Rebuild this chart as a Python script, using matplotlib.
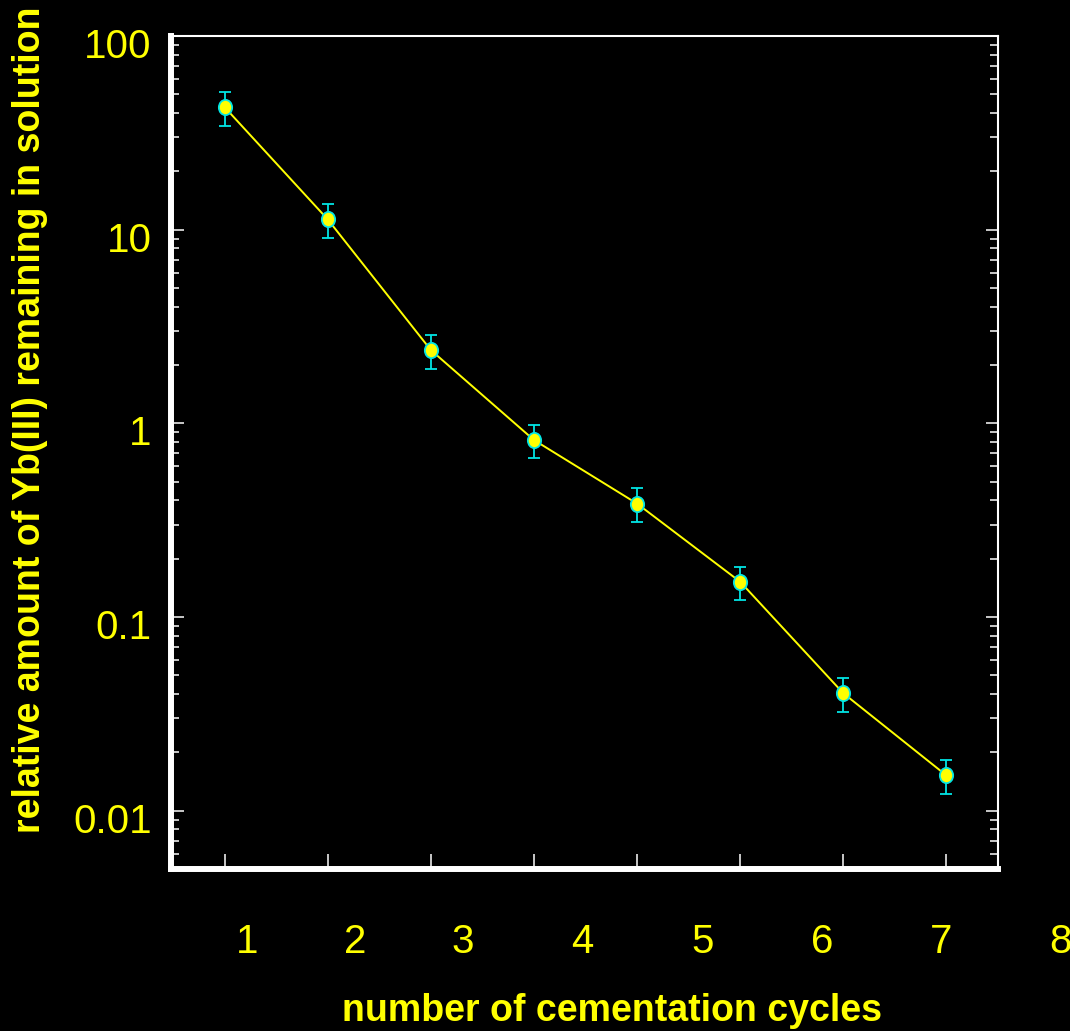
import numpy as np
import matplotlib
matplotlib.use("Agg")
import matplotlib.pyplot as plt
from matplotlib import ticker, transforms
from matplotlib.path import Path

# data
cycles = [1, 2, 3, 4, 5, 6, 7, 8]
remaining = [42.9, 11.3, 2.39, 0.82, 0.385, 0.152, 0.0404, 0.0152]
err = [8.5, 2.2, 0.48, 0.16, 0.077, 0.030, 0.008, 0.003]

ytick_vals = [0.01, 0.1, 1, 10, 100]
ytick_text = ["0.01", "0.1", "1", "10", "100"]
xlabel_text = ["1", "2", "3", "4", "5", "6", "7", "8"]

W, H = 1070, 1031
YEL = "#ffff00"
CYAN = "#00e5e5"
TICK = "#d8d8d8"

plt.rcParams['font.family'] = ['Liberation Sans', 'DejaVu Sans']

# the dots in the original are a bit taller than wide
circ = Path.unit_circle()
oval = Path(circ.vertices * np.array([0.87, 1.0]), circ.codes)

fig = plt.figure(figsize=(W / 100, H / 100), dpi=100, facecolor="black")
ax = fig.add_axes([171 / W, 1 - 869 / H, (998 - 171) / W, (869 - 36) / H])
ax.set_facecolor("black")

ax.errorbar(cycles, remaining, yerr=err, fmt="none", ecolor=CYAN,
            elinewidth=1.3, capsize=4, capthick=1.3, zorder=2)
ax.plot(cycles, remaining, color=YEL, lw=1.4, zorder=3)
ax.plot(cycles, remaining, marker=oval, ls="none", ms=11, mfc=YEL, mec=CYAN,
        mew=1.3, zorder=4)

ax.set_yscale("log")
ax.set_ylim(0.005, 100)
ax.set_xlim(0.48, 8.5)

ax.yaxis.set_major_locator(ticker.FixedLocator(ytick_vals))
ax.yaxis.set_major_formatter(ticker.FixedFormatter(ytick_text))
ax.yaxis.set_minor_locator(ticker.LogLocator(base=10, subs=np.arange(2, 10)))
ax.yaxis.set_minor_formatter(ticker.NullFormatter())
ax.set_xticks(cycles)
ax.set_xticklabels([])

ax.tick_params(axis="y", which="major", direction="in", length=9, width=1.3,
               color=TICK, left=True, right=True, labelsize=29,
               labelcolor=YEL, pad=14)
ax.tick_params(axis="y", which="minor", direction="in", length=6, width=1.3,
               color=TICK, left=True, right=True)
ax.tick_params(axis="x", which="major", direction="in", length=11, width=1.3,
               color=TICK, bottom=True, top=False)

# labels sit a little below their ticks in the original
shift = transforms.ScaledTranslation(0, -7 / 100, fig.dpi_scale_trans)
for lab in ax.get_yticklabels():
    lab.set_transform(lab.get_transform() + shift)

ax.spines["left"].set_linewidth(4.3)
ax.spines["bottom"].set_linewidth(4.3)
ax.spines["top"].set_linewidth(1.5)
ax.spines["right"].set_linewidth(1.5)
for s in ax.spines.values():
    s.set_color("white")

# x numbers are drawn offset from the ticks, as in the source figure
xlab_px = [247, 355, 463, 582, 703, 822, 941, 1060]
for px, t in zip(xlab_px, xlabel_text):
    fig.text(px / W, 1 - 942 / H, t, color=YEL, fontsize=29,
             ha="center", va="center")

fig.text(612 / W, 1 - 1011 / H, "number of cementation cycles", color=YEL,
         fontsize=27, fontweight="bold", ha="center", va="center")
fig.text(30 / W, 1 - 420 / H, "relative amount of Yb(III) remaining in solution",
         color=YEL, fontsize=27, fontweight="bold", rotation=90,
         ha="center", va="center")

fig.savefig("out.png", dpi=100, facecolor="black")
